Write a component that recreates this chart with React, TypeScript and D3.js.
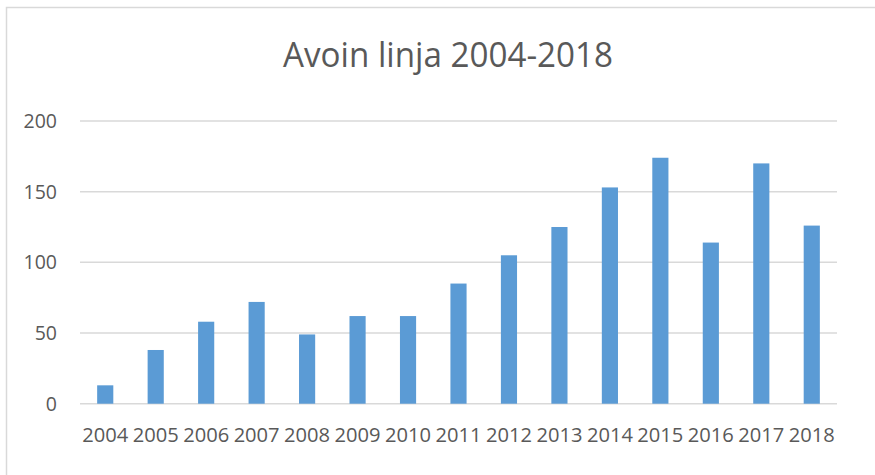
import React, { useEffect, useRef } from 'react';
import * as d3 from 'd3';

const years = ['2004', '2005', '2006', '2007', '2008', '2009', '2010', '2011', '2012', '2013', '2014', '2015', '2016', '2017', '2018'];
const counts = [13, 38, 58, 72, 49, 62, 62, 85, 105, 125, 153, 174, 114, 170, 126];
const yTicks = [0, 50, 100, 150, 200];
const title = 'Avoin linja 2004-2018';

const width = 875;
const height = 475;
const marginLeft = 80;
const marginRight = 38;
const marginTop = 121;
const marginBottom = 71.3;

export default function App() {
  const ref = useRef<SVGSVGElement>(null);

  useEffect(() => {
    const svg = d3.select(ref.current);
    svg.selectAll('*').remove();

    const x = d3.scaleBand<string>().domain(years).range([marginLeft, width - marginRight]).paddingInner(0.68).paddingOuter(0.34);
    const y = d3.scaleLinear().domain([0, 200]).range([height - marginBottom, marginTop]);

    // outer frame
    svg.append('rect')
      .attr('x', 6.5).attr('y', 7.5)
      .attr('width', width).attr('height', height)
      .attr('fill', 'white').attr('stroke', '#d9d9d9').attr('stroke-width', 1.5);

    svg.append('text')
      .attr('x', 448).attr('y', 66.5)
      .attr('text-anchor', 'middle')
      .attr('font-family', 'Open Sans')
      .attr('font-size', 35)
      .attr('fill', '#595959')
      .attr('textLength', 330)
      .attr('lengthAdjust', 'spacingAndGlyphs')
      .text(title);

    // gridlines
    svg.append('g')
      .selectAll('line')
      .data(yTicks)
      .join('line')
      .attr('x1', marginLeft).attr('x2', width - marginRight)
      .attr('y1', d => y(d)).attr('y2', d => y(d))
      .attr('stroke', '#d9d9d9').attr('stroke-width', 1.5);

    // y labels
    svg.append('g')
      .selectAll('text')
      .data(yTicks)
      .join('text')
      .attr('x', 57).attr('y', d => y(d) + 7)
      .attr('text-anchor', 'end')
      .attr('font-family', 'Open Sans')
      .attr('font-size', 19.5)
      .attr('fill', '#595959')
      .text(d => d);

    // bars
    svg.append('g')
      .selectAll('rect')
      .data(counts)
      .join('rect')
      .attr('x', (d, i) => x(years[i])!)
      .attr('width', x.bandwidth())
      .attr('y', d => y(d))
      .attr('height', d => y(0) - y(d))
      .attr('fill', '#5b9bd5');

    // x labels
    svg.append('g')
      .selectAll('text')
      .data(years)
      .join('text')
      .attr('x', d => x(d)! + x.bandwidth() / 2)
      .attr('y', 442)
      .attr('text-anchor', 'middle')
      .attr('font-family', 'Open Sans')
      .attr('font-size', 20.5)
      .attr('fill', '#595959')
      .attr('textLength', 46)
      .attr('lengthAdjust', 'spacingAndGlyphs')
      .text(d => d);
  }, []);

  return (
    <svg ref={ref} width={width} height={height} style={{ position: 'absolute', left: 0, top: 0 }} />
  );
}
